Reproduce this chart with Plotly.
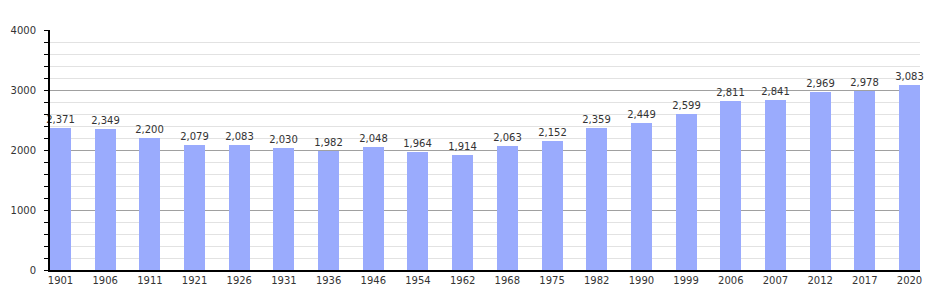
import plotly.graph_objects as go

years = ["1901", "1906", "1911", "1921", "1926", "1931", "1936", "1946", "1954", "1962",
         "1968", "1975", "1982", "1990", "1999", "2006", "2007", "2012", "2017", "2020"]
population = [2371, 2349, 2200, 2079, 2083, 2030, 1982, 2048, 1964, 1914,
              2063, 2152, 2359, 2449, 2599, 2811, 2841, 2969, 2978, 3083]
y_ticks = [0, 1000, 2000, 3000, 4000]

xs = list(range(len(years)))

fig = go.Figure(go.Bar(
    x=xs, y=population, width=0.47,
    marker=dict(color="#9aabfd", line=dict(width=0)),
    text=[f"{v:,}" for v in population], textposition="outside",
    constraintext="none",
    textfont=dict(family="DejaVu Sans", size=10, color="#333333"),
    cliponaxis=False,
))

fig.update_layout(
    width=950, height=300,
    margin=dict(l=50, r=30, t=30, b=30),
    paper_bgcolor="white", plot_bgcolor="white",
    showlegend=False,
    font=dict(family="DejaVu Sans", size=10, color="#333333"),
    bargap=0,
)
fig.update_xaxes(
    range=[-0.235, len(years) - 1 + 0.235],
    tickvals=xs, ticktext=years, ticks="",
    showgrid=False, showline=True, linecolor="black", linewidth=2,
    tickfont=dict(size=10, color="#333333"), zeroline=False,
)
fig.update_yaxes(
    range=[0, 4000], tickvals=y_ticks, ticktext=[str(v) for v in y_ticks],
    ticks="outside", ticklen=4, tickcolor="black",
    showgrid=True, gridcolor="#a0a0a0", gridwidth=1,
    showline=True, linecolor="black", linewidth=2,
    zeroline=False, tickfont=dict(size=10, color="#333333"),
    ticklabelstandoff=6,
    minor=dict(dtick=200, showgrid=True, gridcolor="#e2e2e2", gridwidth=1,
               ticks="outside", ticklen=4, tickcolor="black"),
)

fig.write_html("out.html")
